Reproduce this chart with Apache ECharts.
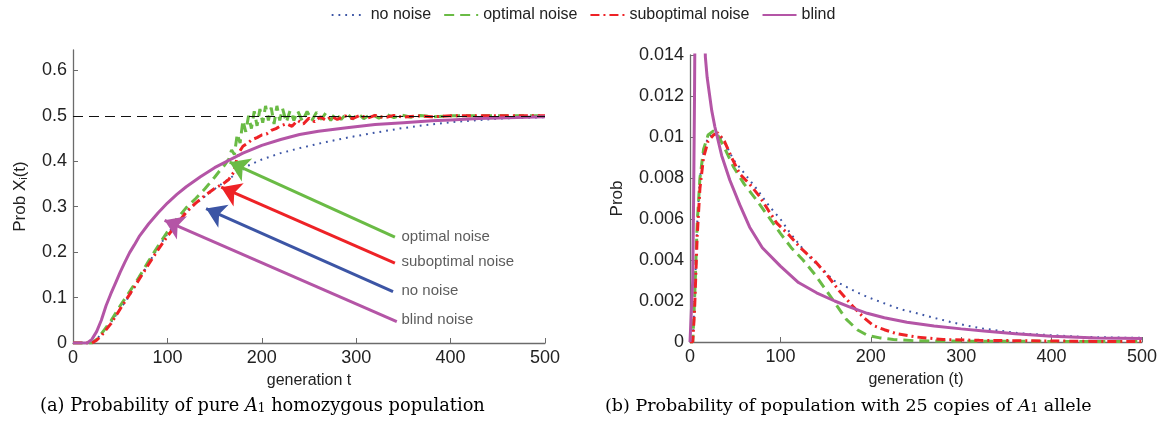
<!DOCTYPE html>
<html>
<head>
<meta charset="utf-8">
<script src="https://cdn.jsdelivr.net/npm/echarts@6/dist/echarts.min.js"></script>
<style>html,body{margin:0;padding:0;background:#fff}#c{width:1166px;height:429px}</style>
</head>
<body>
<div id="c"></div>
<script>
// ---------- DATA ----------
const seriesNames = ['no noise', 'optimal noise', 'suboptimal noise', 'blind'];
const xTicks = [0, 100, 200, 300, 400, 500];
const leftYTicks = [0, 0.1, 0.2, 0.3, 0.4, 0.5, 0.6];
const rightYTicks = [0, 0.002, 0.004, 0.006, 0.008, 0.01, 0.012, 0.014];

// (a) Probability of pure A1 homozygous population  [generation, prob]
const aNoNoise = [[0,0],[20,0],[25,0.008],[30,0.02],[40,0.045],[50,0.075],[60,0.105],[70,0.14],[80,0.175],[90,0.21],[100,0.24],[110,0.266],[120,0.29],[130,0.307],[140,0.323],[150,0.339],[160,0.354],[170,0.368],[187,0.392],[200,0.404],[220,0.418],[240,0.429],[265,0.441],[293,0.453],[320,0.463],[346,0.472],[370,0.479],[400,0.486],[425,0.49],[452,0.494],[475,0.496],[500,0.497]];
const aOptimal = [[0,0],[20,0],[25,0.008],[30,0.02],[40,0.048],[50,0.082],[60,0.113],[70,0.145],[80,0.18],[90,0.213],[100,0.245],[110,0.273],[120,0.298],[130,0.318],[140,0.34],[150,0.365],[155,0.378],[160,0.39],[165,0.405],[168,0.425],[171,0.415],[174,0.46],[177,0.44],[180,0.49],[183,0.465],[186,0.5],[189,0.472],[192,0.51],[195,0.478],[198,0.515],[201,0.485],[204,0.522],[207,0.49],[210,0.518],[213,0.482],[216,0.522],[219,0.49],[222,0.516],[226,0.486],[230,0.512],[234,0.49],[238,0.511],[243,0.488],[248,0.51],[253,0.49],[258,0.508],[263,0.492],[268,0.507],[273,0.49],[278,0.506],[284,0.492],[290,0.506],[296,0.493],[302,0.505],[308,0.494],[316,0.504],[324,0.495],[332,0.503],[340,0.496],[348,0.502],[358,0.497],[368,0.501],[380,0.498],[400,0.5],[500,0.5]];
const aSuboptimal = [[0,0],[20,0],[25,0.006],[30,0.016],[40,0.042],[50,0.075],[60,0.107],[70,0.14],[80,0.173],[90,0.205],[100,0.235],[110,0.262],[120,0.288],[130,0.308],[140,0.325],[150,0.34],[160,0.352],[165,0.36],[170,0.375],[173,0.4],[176,0.42],[180,0.433],[185,0.44],[190,0.448],[195,0.452],[200,0.458],[205,0.46],[210,0.468],[215,0.472],[220,0.478],[226,0.483],[232,0.477],[238,0.49],[244,0.482],[250,0.495],[256,0.487],[262,0.498],[268,0.49],[274,0.499],[280,0.492],[288,0.5],[296,0.494],[304,0.501],[312,0.495],[320,0.501],[330,0.496],[340,0.501],[350,0.497],[365,0.5],[380,0.498],[400,0.5],[500,0.5]];
const aBlind = [[0,0],[15,0],[20,0.008],[25,0.025],[30,0.05],[35,0.082],[40,0.108],[45,0.132],[50,0.156],[55,0.178],[60,0.199],[65,0.216],[70,0.234],[80,0.262],[90,0.286],[100,0.308],[110,0.327],[120,0.344],[135,0.366],[150,0.386],[165,0.402],[180,0.418],[200,0.435],[220,0.448],[240,0.459],[260,0.466],[290,0.474],[320,0.481],[350,0.485],[380,0.489],[400,0.491],[430,0.494],[460,0.496],[500,0.498]];

// annotation arrows in panel (a): tail [t, prob] -> head [t, prob]
const arrowLabels = ['optimal noise', 'suboptimal noise', 'no noise', 'blind noise'];
const arrowTails = [[341, 0.233], [341, 0.176], [339, 0.113], [343, 0.047]];
const arrowHeads = [[166, 0.398], [157, 0.343], [141, 0.296], [97, 0.27]];
const arrowTextPos = [[348, 0.233], [348, 0.178], [348, 0.114], [348, 0.051]];
const targetLevel = 0.5;

// (b) Probability of population with 25 copies of A1 allele
const bNoNoise = [[0,0],[3,0],[5,0.002],[8,0.0058],[11,0.008],[15,0.0093],[20,0.01],[27,0.0102],[33,0.0101],[40,0.0096],[48,0.0089],[57,0.0084],[66,0.0079],[75,0.0074],[83,0.0069],[92,0.0064],[100,0.006],[111,0.0053],[122,0.0047],[131,0.0042],[140,0.0038],[150,0.0034],[159,0.003],[168,0.0028],[177,0.0026],[186,0.0024],[196,0.0022],[214,0.0019],[233,0.0016],[251,0.0014],[270,0.00118],[288,0.00098],[306,0.0008],[325,0.00065],[344,0.00054],[362,0.00044],[380,0.00038],[400,0.00033],[435,0.00025],[470,0.00022],[500,0.0002]];
const bOptimal = [[0,0],[3,0],[5,0.002],[8,0.0058],[11,0.008],[15,0.0094],[20,0.0101],[26,0.0103],[32,0.01],[40,0.0093],[48,0.00855],[60,0.0077],[74,0.0069],[87,0.0061],[100,0.0053],[112,0.0046],[125,0.004],[138,0.0033],[151,0.0025],[162,0.0018],[173,0.0011],[185,0.0006],[196,0.00033],[210,0.0002],[225,0.00012],[250,0.00006],[300,0.00004],[400,0.00003],[500,0.00002]];
const bSuboptimal = [[0,0],[3,0],[5,0.0015],[8,0.0052],[11,0.0075],[15,0.009],[20,0.0098],[26,0.0101],[31,0.0102],[38,0.0098],[46,0.009],[55,0.0082],[66,0.0077],[77,0.0071],[87,0.0064],[96,0.0058],[110,0.0052],[122,0.0046],[137,0.004],[151,0.0033],[165,0.0025],[181,0.0017],[192,0.0012],[203,0.0008],[215,0.0006],[229,0.0004],[251,0.00024],[280,0.00012],[320,0.00008],[400,0.00005],[450,0.00003],[500,0.00002]];
const bBlind = [[0,0],[2,0],[3,0.003],[4,0.007],[5,0.012],[6,0.019],[8,0.028],[10,0.031],[12,0.027],[14,0.021],[16,0.0155],[17,0.0139],[19,0.0129],[21.5,0.0121],[24,0.0113],[27.5,0.0105],[35,0.0091],[44,0.0079],[55,0.0067],[66,0.0056],[80,0.0046],[100,0.0037],[120,0.0029],[140,0.0024],[160,0.002],[177,0.0017],[196,0.0014],[215,0.00118],[240,0.00096],[270,0.00078],[300,0.00064],[325,0.00054],[360,0.0004],[400,0.00028],[450,0.0002],[500,0.00017]];

// ---------- STYLE ----------
const C = { blue: '#3c55a5', green: '#6abb45', red: '#ee2226', purple: '#b455a6' };
const seriesColors = [C.blue, C.green, C.red, C.purple];
const styles = [
  { width: 2, type: [1.8, 5] },
  { width: 3, type: [10, 6] },
  { width: 3, type: [9, 4, 2, 4] },
  { width: 3, type: 'solid' }
];
const SANS = 'Liberation Sans, Arial, Helvetica, sans-serif';
const SERIF = 'DejaVu Serif, Liberation Serif, serif';
const axisCol = '#6b6b6b';

function xAxis(gi, name, gap) {
  return {
    type: 'value', gridIndex: gi, min: 0, max: 500, interval: 100,
    name: name, nameLocation: 'middle', nameGap: gap,
    nameTextStyle: { fontFamily: SANS, fontSize: 16, color: '#222' },
    axisLine: { onZero: false, lineStyle: { color: axisCol, width: 1.3 } },
    axisTick: { inside: true, length: 5, lineStyle: { color: axisCol } },
    axisLabel: { fontFamily: SANS, fontSize: 18, color: '#222', margin: 6 },
    splitLine: { show: false }
  };
}
function yAxis(gi, max, interval, ticks, name, gap) {
  return {
    type: 'value', gridIndex: gi, min: 0, max: max, interval: interval,
    name: name, nameLocation: 'middle', nameGap: gap,
    nameTextStyle: { fontFamily: SANS, fontSize: 17, color: '#222',
      rich: { s: { fontFamily: SANS, fontSize: 11, color: '#222', verticalAlign: 'bottom', padding: [6, 0, 0, 0] } } },
    axisLine: { onZero: false, lineStyle: { color: axisCol, width: 1.3 } },
    axisTick: { inside: true, length: 5, lineStyle: { color: axisCol }, customValues: ticks },
    axisLabel: { fontFamily: SANS, fontSize: 18, color: '#222', margin: 6, customValues: ticks },
    splitLine: { show: false }
  };
}

const leftData = [aNoNoise, aOptimal, aSuboptimal, aBlind];
const rightData = [bNoNoise, bOptimal, bSuboptimal, bBlind];
const series = [];
[leftData, rightData].forEach((set, gi) => {
  set.forEach((d, i) => {
    series.push({
      name: seriesNames[i], type: 'line', xAxisIndex: gi, yAxisIndex: gi,
      data: d, showSymbol: false, symbol: 'none', clip: true, animation: false,
      color: seriesColors[i], lineStyle: { color: seriesColors[i], width: styles[i].width, type: styles[i].type },
      z: i === 3 ? 3 : 2
    });
  });
});

const arrowColors = [C.green, C.red, C.blue, C.purple];
series.push({
  name: 'annotations', type: 'line', xAxisIndex: 0, yAxisIndex: 0, data: [], animation: false,
  markLine: {
    silent: true, animation: false, symbol: ['none', 'arrow'], symbolSize: 19,
    label: { show: false },
    data: [
      [{ coord: [0, targetLevel], symbol: 'none', lineStyle: { color: '#111', width: 1, type: [10, 6] } },
       { coord: [500, targetLevel], symbol: 'none' }]
    ].concat(arrowTails.map((t, i) => [
      { coord: t, symbol: 'none', lineStyle: { color: arrowColors[i], width: 3, type: 'solid' }, itemStyle: { color: arrowColors[i] } },
      { coord: arrowHeads[i], symbol: 'arrow', symbolSize: 19, itemStyle: { color: arrowColors[i] } }
    ]))
  }
});
series.push({
  name: 'arrow labels', type: 'scatter', xAxisIndex: 0, yAxisIndex: 0, symbolSize: 0, animation: false,
  data: arrowTextPos.map((p, i) => ({ value: p, name: arrowLabels[i] })),
  label: { show: true, position: 'right', distance: 0, formatter: '{b}', fontFamily: SANS, fontSize: 15, color: '#333' }
});

const chart = echarts.init(document.getElementById('c'), null, { renderer: 'canvas' });
chart.setOption({
  animation: false,
  backgroundColor: '#fff',
  legend: {
    data: seriesNames, top: 2, left: 'center', itemWidth: 34, itemHeight: 12, itemGap: 12,
    itemStyle: { opacity: 0 },
    textStyle: { fontFamily: SANS, fontSize: 16, color: '#222' }
  },
  grid: [
    { left: 73, right: 621, top: 50, bottom: 86 },
    { left: 690, right: 24, top: 55, bottom: 87 }
  ],
  xAxis: [xAxis(0, 'generation t', 30), xAxis(1, 'generation (t)', 30)],
  yAxis: [
    yAxis(0, 0.645, 0.1, leftYTicks, 'Prob X{s|i}(t)', 44),
    yAxis(1, 0.014, 0.002, rightYTicks, 'Prob', 64)
  ],
  series: series,
  graphic: [
    { type: 'text', left: 40, top: 397, silent: true,
      style: { text: '{n|(a) Probability of pure }{i|A}{s|1}{n| homozygous population}', rich: {
        n: { fontFamily: SERIF, fontSize: 17.8, color: '#222', lineHeight: 22, verticalAlign: 'bottom' },
        i: { fontFamily: SERIF, fontStyle: 'italic', fontSize: 17.8, color: '#222', lineHeight: 22, verticalAlign: 'bottom' },
        s: { fontFamily: SERIF, fontSize: 12, color: '#222', lineHeight: 13, verticalAlign: 'bottom' } } } },
    { type: 'text', left: 605, top: 397, silent: true,
      style: { text: '{n|(b) Probability of population with 25 copies of }{i|A}{s|1}{n| allele}', rich: {
        n: { fontFamily: SERIF, fontSize: 17.5, color: '#222', lineHeight: 22, verticalAlign: 'bottom' },
        i: { fontFamily: SERIF, fontStyle: 'italic', fontSize: 17.5, color: '#222', lineHeight: 22, verticalAlign: 'bottom' },
        s: { fontFamily: SERIF, fontSize: 12, color: '#222', lineHeight: 13, verticalAlign: 'bottom' } } } }
  ]
});
</script>
</body>
</html>
